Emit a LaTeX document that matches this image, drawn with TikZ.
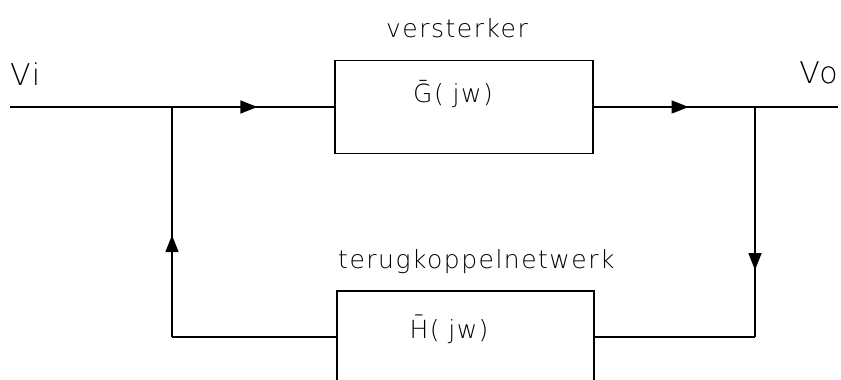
\documentclass[tikz,border=0pt]{standalone}
\usepackage{fontspec}
\setmainfont{DejaVu Sans}
\newfontfamily\plotfont[LetterSpace=6]{DejaVu Sans ExtraLight}
\usetikzlibrary{arrows.meta,decorations.markings}
\tikzset{
  wire/.style={line width=1.6pt},
  blk/.style={draw, line width=1.6pt, minimum width=258pt, minimum height=93pt, inner sep=0pt},
  txt/.style={font=\plotfont\fontsize{25}{30}\selectfont, inner sep=0pt, anchor=base},
  bigtxt/.style={font=\plotfont\fontsize{30}{34}\selectfont, inner sep=0pt},
  midtxt/.style={font=\plotfont\fontsize{25}{30}\selectfont, inner sep=0pt, anchor=base},
  midarrow/.style={postaction={decorate}, decoration={markings,
     mark=at position #1 with {\arrow{Triangle[length=17pt,width=13pt]}}}}
}
\begin{document}
\begin{tikzpicture}[x=1pt,y=-1pt]
\useasboundingbox (0,0) rectangle (841,380);
\clip (0,0) rectangle (841,380);
\node[blk] (g) at (464,107) {};
\node[blk, minimum width=257pt, minimum height=92pt] (h) at (465.5,337) {};
\coordinate (in) at (10,107);
\coordinate (out) at (838,107);
\coordinate (j1) at (172,107);
\coordinate (j2) at (755,107);
\coordinate (jl) at (172,337);
\coordinate (jr) at (755,337);
\draw[wire, midarrow=0.763] (in) -- (g.west);
\draw[wire, midarrow=0.388] (g.east) -- (out);
\draw[wire, midarrow=0.709] (j2) -- (jr);
\draw[wire] (jr) -- (h.east);
\draw[wire] (h.west) -- (jl);
\draw[wire, midarrow=0.443] (jl) -- (j1);
\node[bigtxt, anchor=base west] (vi) at (10,85) {Vi};
\node[bigtxt, anchor=base east] (vo) at (838,83) {Vo};
\node[txt] (amp) at (457,37) {versterker};
\node[txt, anchor=base west] (fb) at (338,268) {terugkoppelnetwerk};
\node[midtxt] (gl) at (453,102) {\=G(\hspace{0.35em}jw)};
\node[midtxt] (hl) at (449,338) {\=H(\hspace{0.35em}jw)};
\end{tikzpicture}
\end{document}
